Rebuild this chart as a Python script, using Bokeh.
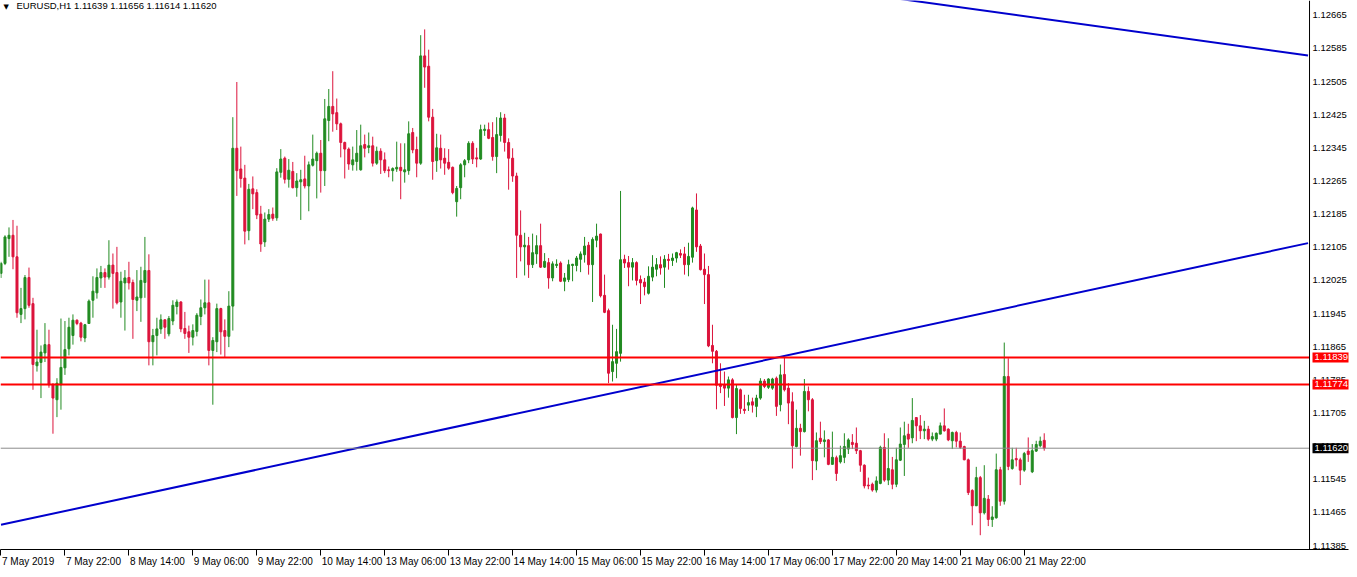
from bokeh.plotting import figure
from bokeh.models import (Range1d, FixedTicker, Span, Label, ColumnDataSource,
                          PrintfTickFormatter, LinearAxis)
from bokeh.embed import file_html
from bokeh.resources import INLINE

# ---- data (EURUSD H1) ----
opens = [1.12042,1.12066,1.12126,1.12134,1.12082,1.11943,1.11957,1.12032,1.11969,1.11819,
1.11827,1.11850,1.11870,1.11773,1.11737,1.11773,1.11814,1.11860,1.11892,1.11929,
1.11922,1.11886,1.11921,1.11977,1.11995,1.12031,1.12044,1.12033,1.12062,1.12044,
1.11973,1.12019,1.12032,1.12020,1.11977,1.11983,1.12020,1.12049,1.11877,1.11892,
1.11908,1.11930,1.11896,1.11927,1.11962,1.11973,1.11909,1.11901,1.11888,1.11902,
1.11938,1.11959,1.11971,1.11856,1.11877,1.11957,1.11904,1.11890,1.11963,1.12344,
1.12294,1.12272,1.12145,1.12246,1.12237,1.12185,1.12118,1.12173,1.12185,1.12176,
1.12286,1.12320,1.12269,1.12288,1.12249,1.12263,1.12270,1.12253,1.12303,1.12314,
1.12332,1.12290,1.12411,1.12445,1.12430,1.12403,1.12358,1.12342,1.12304,1.12312,
1.12292,1.12353,1.12346,1.12350,1.12308,1.12337,1.12316,1.12292,1.12290,1.12294,
1.12298,1.12287,1.12290,1.12382,1.12341,1.12308,1.12567,1.12542,1.12419,1.12314,
1.12344,1.12320,1.12310,1.12298,1.12215,1.12249,1.12304,1.12316,1.12356,1.12321,
1.12318,1.12387,1.12389,1.12370,1.12324,1.12375,1.12417,1.12358,1.12320,1.12277,
1.12134,1.12106,1.12109,1.12063,1.12089,1.12109,1.12057,1.12068,1.12031,1.12061,
1.12067,1.12023,1.12027,1.12061,1.12061,1.12076,1.12087,1.12110,1.12063,1.12122,
1.12137,1.11989,1.11952,1.11805,1.11825,1.11849,1.12076,1.12068,1.12057,1.12068,
1.12027,1.12021,1.11994,1.12033,1.12052,1.12063,1.12057,1.12076,1.12073,1.12079,
1.12090,1.12089,1.12063,1.12081,1.12195,1.12108,1.12052,1.12039,1.11868,1.11854,
1.11775,1.11773,1.11765,1.11785,1.11694,1.11761,1.11714,1.11724,1.11732,1.11721,
1.11741,1.11782,1.11767,1.11765,1.11789,1.11725,1.11798,1.11765,1.11732,1.11624,
1.11668,1.11660,1.11757,1.11737,1.11589,1.11644,1.11636,1.11640,1.11581,1.11597,
1.11587,1.11598,1.11618,1.11634,1.11632,1.11614,1.11579,1.11531,1.11533,1.11519,
1.11535,1.11622,1.11543,1.11568,1.11533,1.11591,1.11629,1.11654,1.11645,1.11694,
1.11674,1.11662,1.11666,1.11642,1.11642,1.11654,1.11674,1.11666,1.11638,1.11658,
1.11637,1.11624,1.11592,1.11518,1.11481,1.11549,1.11464,1.11497,1.11448,1.11452,
1.11568,1.11492,1.11793,1.11571,1.11595,1.11592,1.11567,1.11613,1.11563,1.11613,
1.11626,1.11639]
highs = [1.12070,1.12134,1.12153,1.12171,1.12157,1.12007,1.12038,1.12056,1.11983,1.11906,
1.11868,1.11922,1.11906,1.11777,1.11789,1.11933,1.11927,1.11935,1.11943,1.11931,
1.11925,1.11920,1.11979,1.12035,1.12054,1.12060,1.12054,1.12122,1.12090,1.12106,
1.12046,1.12050,1.12070,1.12027,1.12050,1.12058,1.12130,1.12088,1.11908,1.11935,
1.11943,1.11931,1.11939,1.11977,1.11979,1.11975,1.11949,1.11916,1.11919,1.11946,
1.11979,1.12027,1.12027,1.11888,1.11969,1.11959,1.11931,1.11999,1.12419,1.12504,
1.12348,1.12304,1.12258,1.12276,1.12245,1.12205,1.12189,1.12197,1.12201,1.12296,
1.12342,1.12324,1.12318,1.12311,1.12284,1.12292,1.12326,1.12312,1.12377,1.12336,
1.12364,1.12463,1.12487,1.12530,1.12464,1.12406,1.12360,1.12346,1.12348,1.12388,
1.12401,1.12377,1.12382,1.12372,1.12348,1.12344,1.12334,1.12300,1.12298,1.12360,
1.12356,1.12356,1.12409,1.12393,1.12372,1.12617,1.12631,1.12582,1.12439,1.12379,
1.12377,1.12344,1.12342,1.12300,1.12253,1.12308,1.12318,1.12361,1.12361,1.12345,
1.12401,1.12401,1.12406,1.12407,1.12419,1.12431,1.12427,1.12368,1.12344,1.12285,
1.12194,1.12140,1.12130,1.12138,1.12134,1.12162,1.12091,1.12079,1.12071,1.12076,
1.12071,1.12043,1.12075,1.12065,1.12084,1.12095,1.12130,1.12118,1.12129,1.12162,
1.12138,1.12039,1.11957,1.11918,1.11908,1.12241,1.12087,1.12084,1.12079,1.12071,
1.12037,1.12031,1.12059,1.12086,1.12079,1.12083,1.12086,1.12089,1.12090,1.12094,
1.12100,1.12106,1.12116,1.12203,1.12235,1.12113,1.12090,1.12060,1.11918,1.11857,
1.11825,1.11805,1.11793,1.11789,1.11773,1.11764,1.11749,1.11749,1.11742,1.11749,
1.11789,1.11787,1.11789,1.11790,1.11793,1.11822,1.11840,1.11777,1.11755,1.11713,
1.11679,1.11787,1.11769,1.11741,1.11658,1.11684,1.11663,1.11642,1.11660,1.11602,
1.11626,1.11656,1.11644,1.11654,1.11670,1.11616,1.11581,1.11549,1.11537,1.11552,
1.11626,1.11656,1.11644,1.11599,1.11621,1.11670,1.11684,1.11679,1.11741,1.11695,
1.11700,1.11686,1.11674,1.11658,1.11658,1.11682,1.11716,1.11668,1.11660,1.11662,
1.11658,1.11626,1.11595,1.11521,1.11575,1.11553,1.11579,1.11507,1.11480,1.11607,
1.11575,1.11875,1.11837,1.11621,1.11621,1.11597,1.11611,1.11646,1.11630,1.11638,
1.11648,1.11656]
lows = [1.12031,1.12062,1.12082,1.12052,1.11935,1.11922,1.11931,1.11959,1.11761,1.11805,
1.11741,1.11828,1.11766,1.11655,1.11695,1.11713,1.11797,1.11844,1.11870,1.11917,
1.11878,1.11876,1.11920,1.11935,1.11981,1.12007,1.12007,1.12027,1.11957,1.11967,
1.11935,1.11904,1.12003,1.11884,1.11951,1.11925,1.11983,1.11820,1.11820,1.11844,
1.11896,1.11884,1.11890,1.11917,1.11943,1.11900,1.11884,1.11850,1.11868,1.11890,
1.11917,1.11943,1.11820,1.11725,1.11852,1.11846,1.11838,1.11864,1.11904,1.12229,
1.12249,1.12112,1.12122,1.12197,1.12173,1.12094,1.12106,1.12166,1.12169,1.12169,
1.12273,1.12259,1.12249,1.12247,1.12227,1.12171,1.12247,1.12192,1.12300,1.12223,
1.12237,1.12253,1.12361,1.12384,1.12388,1.12322,1.12271,1.12292,1.12290,1.12290,
1.12290,1.12322,1.12332,1.12300,1.12304,1.12282,1.12284,1.12274,1.12264,1.12287,
1.12221,1.12261,1.12280,1.12332,1.12274,1.12304,1.12490,1.12409,1.12268,1.12287,
1.12295,1.12280,1.12292,1.12233,1.12179,1.12221,1.12274,1.12308,1.12306,1.12298,
1.12316,1.12374,1.12366,1.12314,1.12284,1.12360,1.12336,1.12244,1.12263,1.12031,
1.12071,1.12037,1.12031,1.12055,1.12065,1.12055,1.12055,1.12005,1.12023,1.12055,
1.12021,1.11999,1.12021,1.12023,1.12047,1.12045,1.12068,1.12039,1.11973,1.12105,
1.11984,1.11946,1.11777,1.11781,1.11789,1.11829,1.12055,1.12011,1.12025,1.12013,
1.11968,1.11989,1.11991,1.12023,1.12035,1.12039,1.12007,1.12051,1.12060,1.12068,
1.12079,1.12039,1.12035,1.12068,1.12094,1.12049,1.11968,1.11864,1.11825,1.11714,
1.11753,1.11722,1.11742,1.11692,1.11654,1.11703,1.11703,1.11710,1.11706,1.11695,
1.11737,1.11765,1.11763,1.11761,1.11698,1.11709,1.11757,1.11678,1.11571,1.11622,
1.11602,1.11658,1.11709,1.11543,1.11567,1.11630,1.11598,1.11579,1.11581,1.11541,
1.11583,1.11584,1.11606,1.11618,1.11606,1.11563,1.11523,1.11521,1.11515,1.11513,
1.11533,1.11539,1.11531,1.11521,1.11526,1.11589,1.11553,1.11621,1.11632,1.11637,
1.11642,1.11642,1.11638,1.11637,1.11637,1.11654,1.11660,1.11637,1.11618,1.11622,
1.11618,1.11591,1.11507,1.11434,1.11481,1.11410,1.11460,1.11432,1.11430,1.11450,
1.11481,1.11484,1.11567,1.11568,1.11576,1.11531,1.11563,1.11587,1.11560,1.11611,
1.11622,1.11614]
closes = [1.12066,1.12130,1.12134,1.12082,1.11947,1.11957,1.12032,1.11965,1.11822,1.11828,
1.11852,1.11870,1.11773,1.11741,1.11777,1.11815,1.11858,1.11912,1.11929,1.11921,
1.11888,1.11918,1.11975,1.11999,1.12032,1.12044,1.12033,1.12062,1.12042,1.11971,
1.12023,1.12031,1.12019,1.11979,1.11985,1.12025,1.12049,1.11877,1.11892,1.11908,
1.11930,1.11912,1.11933,1.11965,1.11973,1.11908,1.11897,1.11888,1.11904,1.11941,
1.11959,1.11971,1.11856,1.11880,1.11957,1.11901,1.11890,1.11963,1.12344,1.12290,
1.12271,1.12144,1.12245,1.12234,1.12183,1.12113,1.12173,1.12184,1.12175,1.12287,
1.12318,1.12269,1.12291,1.12249,1.12265,1.12268,1.12253,1.12304,1.12318,1.12332,
1.12290,1.12415,1.12445,1.12427,1.12403,1.12358,1.12342,1.12306,1.12316,1.12332,
1.12350,1.12344,1.12350,1.12308,1.12337,1.12316,1.12290,1.12290,1.12295,1.12298,
1.12290,1.12292,1.12379,1.12340,1.12308,1.12567,1.12540,1.12419,1.12312,1.12345,
1.12316,1.12308,1.12296,1.12237,1.12247,1.12304,1.12314,1.12356,1.12318,1.12318,
1.12389,1.12390,1.12368,1.12324,1.12377,1.12417,1.12358,1.12320,1.12277,1.12134,
1.12106,1.12110,1.12063,1.12092,1.12109,1.12057,1.12071,1.12031,1.12065,1.12064,
1.12023,1.12031,1.12063,1.12064,1.12079,1.12089,1.12108,1.12063,1.12124,1.12132,
1.11988,1.11948,1.11801,1.11829,1.11853,1.12075,1.12067,1.12057,1.12068,1.12025,
1.12019,1.12010,1.12035,1.12057,1.12063,1.12055,1.12076,1.12073,1.12079,1.12092,
1.12086,1.12063,1.12083,1.12200,1.12106,1.12051,1.12039,1.11867,1.11854,1.11772,
1.11769,1.11765,1.11785,1.11694,1.11764,1.11716,1.11711,1.11730,1.11724,1.11741,
1.11782,1.11769,1.11787,1.11787,1.11721,1.11797,1.11761,1.11729,1.11626,1.11668,
1.11660,1.11757,1.11737,1.11590,1.11638,1.11636,1.11640,1.11581,1.11598,1.11559,
1.11602,1.11624,1.11640,1.11629,1.11614,1.11579,1.11529,1.11529,1.11519,1.11541,
1.11622,1.11543,1.11571,1.11533,1.11592,1.11630,1.11650,1.11642,1.11687,1.11674,
1.11662,1.11666,1.11642,1.11648,1.11656,1.11674,1.11662,1.11640,1.11658,1.11637,
1.11622,1.11592,1.11513,1.11481,1.11549,1.11464,1.11499,1.11448,1.11454,1.11568,
1.11492,1.11793,1.11576,1.11592,1.11592,1.11567,1.11607,1.11605,1.11614,1.11629,
1.11637,1.11620]

time_labels = ["7 May 2019", "7 May 22:00", "8 May 14:00", "9 May 06:00", "9 May 22:00",
               "10 May 14:00", "13 May 06:00", "13 May 22:00", "14 May 14:00", "15 May 06:00",
               "15 May 22:00", "16 May 14:00", "17 May 06:00", "17 May 22:00", "20 May 14:00",
               "21 May 06:00", "21 May 22:00"]
bars_per_label = 16
price_ticks = [1.11385, 1.11465, 1.11545, 1.11625, 1.11705, 1.11785, 1.11865, 1.11945,
               1.12025, 1.12105, 1.12185, 1.12265, 1.12345, 1.12425, 1.12505, 1.12585, 1.12665]
level_prices = [1.11839, 1.11774]
last_price = 1.11620
trend_low_bar = [0, 327]
trend_low_price = [1.11435, 1.12115]
trend_high_bar = [220, 327]
trend_high_price = [1.12711, 1.12568]
header_text = "EURUSD,H1  1.11639 1.11656 1.11614 1.11620"

UP = "#228B22"
DOWN = "#DC143C"
FONT = "Liberation Sans"
FONT_PX = 10
SCALE_FONT = "9.5px"

W, H = 1349, 569
X0 = -0.125            # left edge of the chart, in bars
DIV = 327.375          # where the price scale starts (chart area ends), in bars
X1 = X0 + W / 4.0      # 4 px per bar
px_per_bar = W / (X1 - X0)

n = len(opens)
xs = list(range(n))
colors = [UP if c >= o else DOWN for o, c in zip(opens, closes)]
src = ColumnDataSource(dict(
    x=xs, h=highs, l=lows,
    top=[max(o, c) for o, c in zip(opens, closes)],
    bottom=[min(o, c) for o, c in zip(opens, closes)],
    color=colors))

p = figure(width=W, height=H,
           x_range=Range1d(X0, X1), y_range=Range1d(1.113755, 1.127007),
           output_backend="svg", toolbar_location=None, y_axis_location="right",
           min_border_left=0, min_border_top=0, min_border_right=0,
           min_border_bottom=18,
           background_fill_color="white", border_fill_color="white")
p.outline_line_color = None
p.xgrid.visible = False
p.ygrid.visible = False

p.segment(x0="x", y0="l", x1="x", y1="h", line_color="color", line_width=1, source=src)
p.vbar(x="x", top="top", bottom="bottom", width=0.5, fill_color="color",
       line_color="color", line_width=1, source=src)

# trend lines
p.line(trend_low_bar, trend_low_price, line_color="#0000CD", line_width=2)
p.line(trend_high_bar, trend_high_price, line_color="#0000CD", line_width=2)

# horizontal levels, ending at the price scale
p.segment(x0=[X0] * len(level_prices), x1=[DIV] * len(level_prices),
          y0=level_prices, y1=level_prices, line_color="#FF0000", line_width=2)
p.segment(x0=[X0], x1=[DIV], y0=[last_price], y1=[last_price],
          line_color="#8C8C8C", line_width=1)

# border line of the price scale
p.add_layout(Span(location=DIV, dimension="height", line_color="black", line_width=1))

# x axis: tick marks at the label bars ...
tick_bars = [bars_per_label * k for k in range(len(time_labels))]
xa = p.xaxis[0]
xa.ticker = FixedTicker(ticks=tick_bars)
xa.major_label_text_font_size = f"{FONT_PX}px"
xa.major_label_text_color = None
xa.major_label_standoff = 0
xa.major_tick_out = 6
xa.major_tick_in = 0
xa.minor_tick_out = 0
xa.minor_tick_in = 0
xa.axis_line_color = "black"
xa.major_tick_line_color = "black"

# ... and labels that start just right of each tick (MT4 style, left aligned)
char_w = {" ": 0.278, "M": 0.833, "a": 0.556, "y": 0.5, ":": 0.278}
def text_width(s):
    return sum(char_w.get(ch, 0.556) for ch in s) * FONT_PX

label_pos = [t + (text_width(lab) / 2 + 1) / px_per_bar for t, lab in zip(tick_bars, time_labels)]
la = LinearAxis(ticker=FixedTicker(ticks=label_pos),
                major_label_overrides={pos: lab for pos, lab in zip(label_pos, time_labels)})
la.major_label_text_font = FONT
la.major_label_text_font_size = f"{FONT_PX}px"
la.major_label_text_color = "black"
la.major_label_standoff = 0
la.major_tick_out = 0
la.major_tick_in = 0
la.minor_tick_out = 0
la.minor_tick_in = 0
la.axis_line_color = None
p.add_layout(la, "below")

# price scale (labels drawn inward into the reserved strip right of DIV)
ya = p.yaxis[0]
ya.ticker = FixedTicker(ticks=price_ticks)
ya.formatter = PrintfTickFormatter(format="%.5f")
ya.major_label_text_font = FONT
ya.major_label_text_font_size = SCALE_FONT
ya.major_label_text_color = "black"
ya.major_label_standoff = -36
ya.major_tick_out = 0
ya.major_tick_in = 0
ya.minor_tick_out = 0
ya.minor_tick_in = 0
ya.axis_line_color = None

# price tags on the price scale
tags = [(level_prices[0], "#FF0000"), (level_prices[1], "#FF0000"), (last_price, "#000000")]
for price, col in tags:
    p.add_layout(Label(x=(DIV - X0) * px_per_bar + 2, y=price, x_units="screen", y_units="data",
                       text=f"{price:.5f}", text_color="white", text_font=FONT,
                       text_font_size=SCALE_FONT, text_baseline="middle", text_align="left",
                       background_fill_color=col, padding=2))

# header
p.add_layout(Label(x=3, y=H - 18 - 4, x_units="screen", y_units="screen", text="\u25BC",
                   text_font="DejaVu Sans", text_font_size="7px", text_color="black",
                   text_baseline="top"))
p.add_layout(Label(x=16, y=H - 18 - 1, x_units="screen", y_units="screen", text=header_text,
                   text_font=FONT, text_font_size="9.5px", text_color="black",
                   text_baseline="top"))

open("out.html", "w").write(file_html(p, INLINE))
